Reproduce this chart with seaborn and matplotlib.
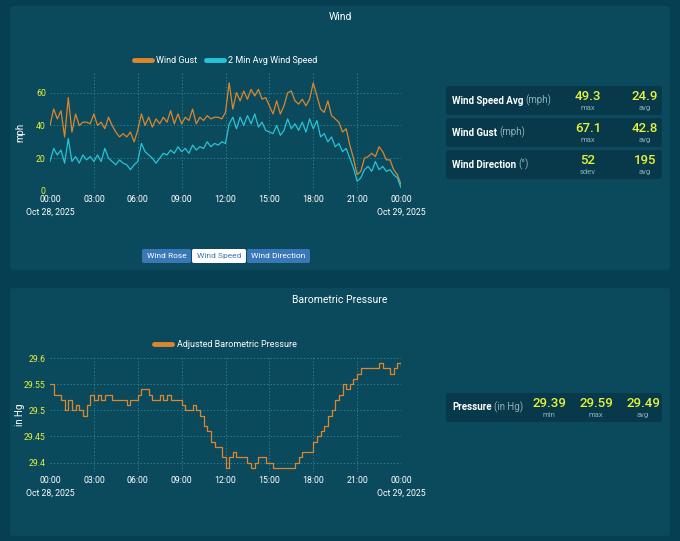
import numpy as np
import pandas as pd
import matplotlib
matplotlib.use("Agg")
import matplotlib.pyplot as plt
import seaborn as sns
from matplotlib.patches import FancyBboxPatch

# 15-minute samples, Oct 28 00:00 -> Oct 29 00:00
wind_gust = [
    40, 50, 44, 49, 33, 57, 36, 47, 40, 42, 42, 41,
    47, 40, 42, 38, 45, 40, 36, 33, 35, 33, 36, 30,
    37, 47, 40, 45, 39, 44, 41, 45, 42, 49, 41, 47,
    41, 45, 43, 50, 41, 45, 43, 46, 44, 45, 45, 44,
    48, 66, 50, 60, 55, 61, 56, 62, 58, 62, 56, 57,
    52, 47, 55, 47, 52, 60, 61, 55, 53, 56, 52, 56,
    66, 58, 50, 48, 55, 46, 44, 42, 36, 38, 28, 20,
    10, 12, 20, 21, 23, 21, 27, 24, 19, 19, 13, 10, 4,
]
wind_avg = [
    18, 26, 22, 25, 17, 32, 18, 21, 17, 22, 19, 21,
    18, 22, 18, 26, 20, 18, 16, 19, 17, 16, 13, 16,
    18, 29, 24, 22, 20, 17, 20, 23, 22, 25, 23, 27,
    24, 26, 23, 28, 25, 27, 26, 30, 27, 29, 28, 30,
    29, 41, 45, 38, 45, 40, 46, 41, 47, 39, 42, 37,
    36, 35, 40, 34, 37, 44, 38, 41, 37, 42, 36, 44,
    38, 43, 33, 35, 30, 33, 27, 29, 24, 26, 20, 14,
    6, 8, 13, 15, 12, 18, 13, 15, 12, 13, 10, 8, 2,
]
pressure = [
    29.55, 29.53, 29.53, 29.52, 29.50, 29.52, 29.50, 29.51, 29.50, 29.49, 29.51, 29.53,
    29.52, 29.53, 29.52, 29.53, 29.53, 29.52, 29.52, 29.52, 29.52, 29.51, 29.52, 29.52,
    29.53, 29.54, 29.54, 29.53, 29.52, 29.52, 29.53, 29.52, 29.53, 29.52, 29.52, 29.52,
    29.51, 29.50, 29.50, 29.51, 29.50, 29.49, 29.47, 29.46, 29.44, 29.43, 29.43, 29.41,
    29.39, 29.41, 29.42, 29.41, 29.41, 29.41, 29.40, 29.39, 29.40, 29.41, 29.41, 29.40,
    29.40, 29.39, 29.39, 29.39, 29.39, 29.39, 29.39, 29.40, 29.41, 29.42, 29.42, 29.42,
    29.44, 29.45, 29.46, 29.47, 29.49, 29.50, 29.52, 29.53, 29.55, 29.54, 29.55, 29.56,
    29.57, 29.58, 29.58, 29.58, 29.58, 29.58, 29.59, 29.58, 29.58, 29.57, 29.58, 29.59, 29.58,
]
hours = np.arange(len(wind_gust)) * 0.25

hour_ticks = [0, 3, 6, 9, 12, 15, 18, 21, 24]
hour_labels = ["00:00\nOct 28, 2025", "03:00", "06:00", "09:00", "12:00",
               "15:00", "18:00", "21:00", "00:00\nOct 29, 2025"]
wind_ticks = [0, 20, 40, 60]
pres_ticks = [29.4, 29.45, 29.5, 29.55, 29.6]
pres_tick_labels = ["29.4", "29.45", "29.5", "29.55", "29.6"]

wind_stats = [
    ("Wind Speed Avg", "(mph)", [("49.3", "max"), ("24.9", "avg")]),
    ("Wind Gust", "(mph)", [("67.1", "max"), ("42.8", "avg")]),
    ("Wind Direction", "(°)", [("52", "sdev"), ("195", "avg")]),
]
pres_stats = [("Pressure", "(in Hg)", [("29.39", "min"), ("29.59", "max"), ("29.49", "avg")])]
buttons = ["Wind Rose", "Wind Speed", "Wind Direction"]

PAGE = "#053f51"
PANEL = "#0b4a5c"
BOX = "#07394a"
GRID = "#2f8f9c"
ORANGE = "#dc862e"
CYAN = "#25c4d6"
YELLOW = "#e6f23c"
SUB = "#8fb0b8"

W, H = 680, 541
sns.set_theme(style="dark")
plt.rcParams["font.family"] = ["Roboto", "DejaVu Sans"]

fig = plt.figure(figsize=(W / 100, H / 100), dpi=100, facecolor=PAGE)


def rect(l, t, r, b):
    return [l / W, 1 - b / H, (r - l) / W, (b - t) / H]


def fx(x):
    return x / W


def fy(y):
    return 1 - y / H


def rounded(l, t, r, b, color, rad=4, z=0):
    p = FancyBboxPatch((fx(l), fy(b)), fx(r - l), (b - t) / H,
                       boxstyle=f"round,pad=0,rounding_size={rad / W}",
                       transform=fig.transFigure, facecolor=color,
                       edgecolor="none", zorder=z)
    fig.patches.append(p)


# panels
rounded(10, 6, 670, 270, PANEL)
rounded(10, 288, 670, 536, PANEL)
fig.text(fx(340), fy(17.5), "Wind", color="white", fontsize=7.5,
         ha="center", va="center")
fig.text(fx(340), fy(300), "Barometric Pressure", color="white", fontsize=7.5,
         ha="center", va="center")


def style_axes(ax, yticks, ylabels, ylabel):
    ax.set_zorder(5)
    ax.set_facecolor("none")
    for s in ax.spines.values():
        s.set_visible(False)
    ax.set_xlim(0, 24)
    ax.set_xticks(hour_ticks)
    ax.set_xticklabels(hour_labels, color="white", fontsize=6.3,
                       linespacing=1.5)
    ax.set_yticks(yticks)
    ax.set_yticklabels(ylabels, color=YELLOW, fontsize=6.3)
    ax.tick_params(axis="both", length=0, pad=3)
    ax.set_xlabel("")
    ax.set_ylabel(ylabel, color="white", fontsize=7)
    ax.yaxis.set_label_coords(-25 / 351, 0.5)
    ax.grid(False)
    for t in hour_ticks[1:-1]:
        ax.axvline(t, color=GRID, lw=0.6, ls=(0, (1.5, 2.5)), zorder=0)


def style_legend(leg):
    for txt in leg.get_texts():
        txt.set_color("white")
    for h in leg.get_lines():
        h.set_linewidth(3.5)


# wind chart
axw = fig.add_axes(rect(50, 73, 401, 191))
df_w = pd.DataFrame({"hour": hours, "Wind Gust": wind_gust,
                     "2 Min Avg Wind Speed": wind_avg})
sns.lineplot(data=df_w, x="hour", y="Wind Gust", color=ORANGE, lw=0.9,
             ax=axw, label="Wind Gust")
sns.lineplot(data=df_w, x="hour", y="2 Min Avg Wind Speed", color=CYAN, lw=0.9,
             ax=axw, label="2 Min Avg Wind Speed")
axw.set_ylim(0, 72)
style_axes(axw, wind_ticks, [str(v) for v in wind_ticks], "mph")
for v in wind_ticks[1:]:
    axw.axhline(v, color=GRID, lw=0.6, ls=(0, (1.5, 2.5)), zorder=0)
style_legend(axw.legend(loc="lower center", bbox_to_anchor=(0.5, 1.035), ncol=2,
                        frameon=False, fontsize=6.5, handlelength=2.0,
                        columnspacing=0.9, handletextpad=0.5, borderaxespad=0))

# pressure chart
axp = fig.add_axes(rect(50, 357, 401, 472))
df_p = pd.DataFrame({"hour": hours, "pressure": pressure})
sns.lineplot(data=df_p, x="hour", y="pressure", color=ORANGE, lw=0.9,
             drawstyle="steps-post", ax=axp, label="Adjusted Barometric Pressure")
axp.set_ylim(29.382, 29.602)
style_axes(axp, pres_ticks, pres_tick_labels, "in Hg")
for v in pres_ticks:
    axp.axhline(v, color=GRID, lw=0.6, ls=(0, (1.5, 2.5)), zorder=0)
style_legend(axp.legend(loc="lower center", bbox_to_anchor=(0.5, 1.035), ncol=1,
                        frameon=False, fontsize=6.5, handlelength=2.0,
                        handletextpad=0.5, borderaxespad=0))

# buttons
btn_edges = [(142, 191), (192, 246), (247, 310)]
for name, (l, r) in zip(buttons, btn_edges):
    active = name == "Wind Speed"
    rounded(l, 249, r, 263, "white" if active else "#3877b8", rad=2, z=2)
    fig.text(fx((l + r) / 2), fy(256), name, fontsize=6,
             color="#3877b8" if active else "white", ha="center", va="center",
             zorder=3)


def stat_box(top, bottom, label, unit, values, xs):
    rounded(446, top, 662, bottom, BOX, rad=3, z=1)
    mid = (top + bottom) / 2
    t = fig.text(fx(452), fy(mid), label, fontsize=7, color="white",
                 fontweight="semibold", ha="left", va="center", zorder=3)
    fig.canvas.draw()
    bb = t.get_window_extent()
    fig.text(bb.x1 / W + fx(2), fy(mid), unit, fontsize=7, color=SUB,
             ha="left", va="center", zorder=3)
    for (val, sub), x in zip(values, xs):
        fig.text(fx(x), fy(mid - 4), val, fontsize=9.5, color=YELLOW,
                 fontweight="medium", ha="center", va="center", zorder=3)
        fig.text(fx(x), fy(mid + 7.5), sub, fontsize=5.5, color=SUB,
                 ha="center", va="center", zorder=3)


box_rows = [(86, 115), (118, 147), (150, 179)]
for (label, unit, vals), (t, b) in zip(wind_stats, box_rows):
    stat_box(t, b, label, unit, vals, [588, 645])
for label, unit, vals in pres_stats:
    stat_box(393, 422, label, unit, vals, [549, 596, 643])

fig.savefig("out.png", dpi=100, facecolor=PAGE)
